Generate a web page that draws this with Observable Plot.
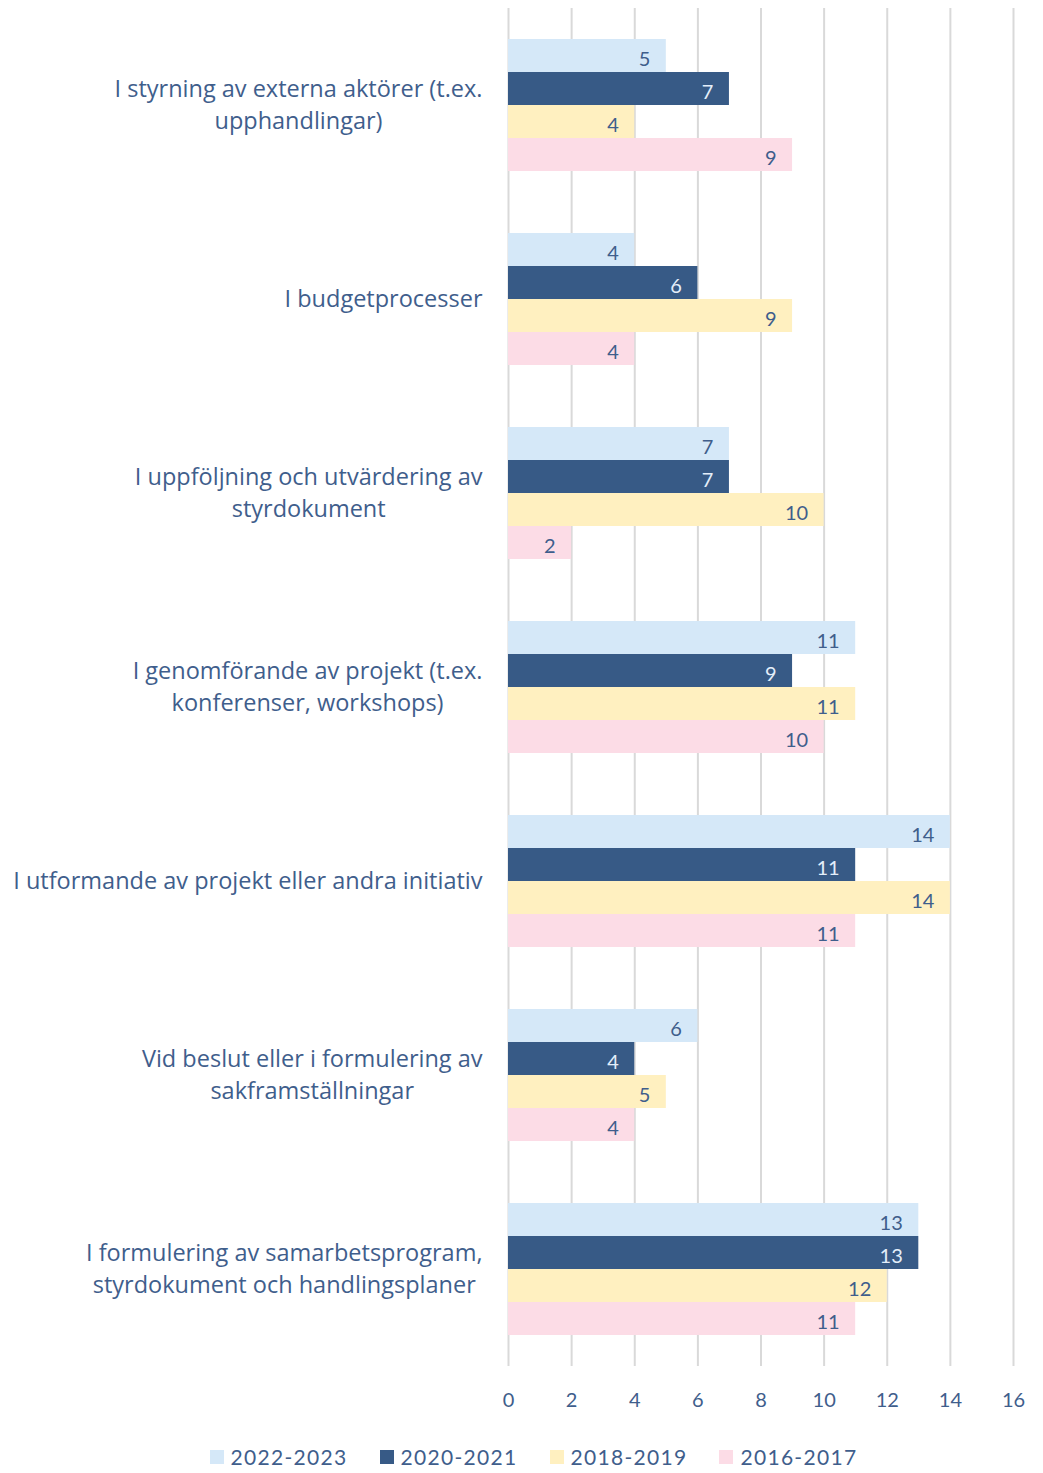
<!DOCTYPE html>
<html>
<head>
<meta charset="utf-8">
<script src="https://cdn.jsdelivr.net/npm/d3@7"></script>
<script src="https://cdn.jsdelivr.net/npm/@observablehq/plot@0.6"></script>
<style>
  html, body { margin: 0; padding: 0; background: #fff; }
  body { width: 1043px; font-family: Lato, "Open Sans", sans-serif; color: #3f5e8c; }
  #legend { display: flex; justify-content: center; align-items: center; gap: 32px; padding-top: 19px; font-size: 21px; letter-spacing: 1.3px; padding-left: 24px; }
  #legend .item { display: flex; align-items: center; gap: 7px; }
  #legend .sw { width: 14px; height: 14px; display: inline-block; }
</style>
</head>
<body>
<div id="chart"></div>
<div id="legend"></div>
<script>
const categories = [
  "I styrning av externa aktörer (t.ex.\nupphandlingar)",
  "I budgetprocesser",
  "I uppföljning och utvärdering av\nstyrdokument",
  "I genomförande av projekt (t.ex.\nkonferenser, workshops)",
  "I utformande av projekt eller andra initiativ",
  "Vid beslut eller i formulering av\nsakframställningar",
  "I formulering av samarbetsprogram,\nstyrdokument och handlingsplaner"
];
const seriesNames = ["2022-2023", "2020-2021", "2018-2019", "2016-2017"];
const values2022 = [5, 4, 7, 11, 14, 6, 13];
const values2020 = [7, 6, 7, 9, 11, 4, 13];
const values2018 = [4, 9, 10, 11, 14, 5, 12];
const values2016 = [9, 4, 2, 10, 11, 4, 11];
const xTicks = [0, 2, 4, 6, 8, 10, 12, 14, 16];
const colors = ["#d5e8f8", "#375a86", "#fff0c0", "#fcdce6"];
const textColor = "#3f5e8c";
const labelColors = ["#3f5e8c", "#e3eefa", "#3f5e8c", "#3f5e8c"];

const seriesValues = [values2022, values2020, values2018, values2016];
const data = [];
categories.forEach((c, i) => {
  seriesNames.forEach((s, j) => {
    data.push({category: c, series: s, value: seriesValues[j][i], labelColor: labelColors[j]});
  });
});

const fontFamily = "Lato, 'Open Sans', sans-serif";
const catFontFamily = "'Open Sans', Lato, sans-serif";
const catFont = 23.5;
const ctx = document.createElement("canvas").getContext("2d");
ctx.font = `${catFont}px 'Open Sans'`;
function maxLineWidth(s) {
  return d3.max(s.split("\n"), l => ctx.measureText(l).width);
}

const catMarks = categories.map(c => {
  const w = maxLineWidth(c);
  return Plot.text([c], {
    fy: d => d,
    text: d => d,
    frameAnchor: "left",
    textAnchor: "middle",
    lineAnchor: "middle",
    dx: -(26 + w / 2),
    dy: -3,
    fontSize: catFont,
    fontFamily: catFontFamily,
    lineHeight: 1.4,
    fill: textColor
  });
});

const chart = Plot.plot({
  width: 1043,
  height: 1425,
  marginLeft: 508,
  marginRight: 30,
  marginTop: 8,
  marginBottom: 59,
  style: {fontFamily, fontSize: "20px", color: textColor, background: "#fff"},
  x: {domain: [0, 16], ticks: xTicks, tickSize: 0, tickPadding: 26, label: null, tickFormat: d => String(d)},
  y: {domain: seriesNames, paddingInner: 0, paddingOuter: 0.9, axis: null},
  fy: {domain: categories, padding: 0, axis: null, label: null},
  color: {domain: seriesNames, range: colors},
  marks: [
    Plot.ruleX(xTicks, {stroke: "#d9d9d9", strokeWidth: 2}),
    Plot.barX(data, {fy: "category", y: "series", x: "value", fill: "series", inset: 0}),
    Plot.text(data, {fy: "category", y: "series", x: "value", text: d => String(d.value), textAnchor: "end", dx: -16, dy: 4, fill: "labelColor", fontSize: 20}),
    ...catMarks
  ]
});
document.getElementById("chart").appendChild(chart);

const legend = document.getElementById("legend");
seriesNames.forEach((s, j) => {
  const item = document.createElement("div");
  item.className = "item";
  const sw = document.createElement("span");
  sw.className = "sw";
  sw.style.background = colors[j];
  const t = document.createElement("span");
  t.textContent = s;
  item.appendChild(sw);
  item.appendChild(t);
  legend.appendChild(item);
});
</script>
</body>
</html>
